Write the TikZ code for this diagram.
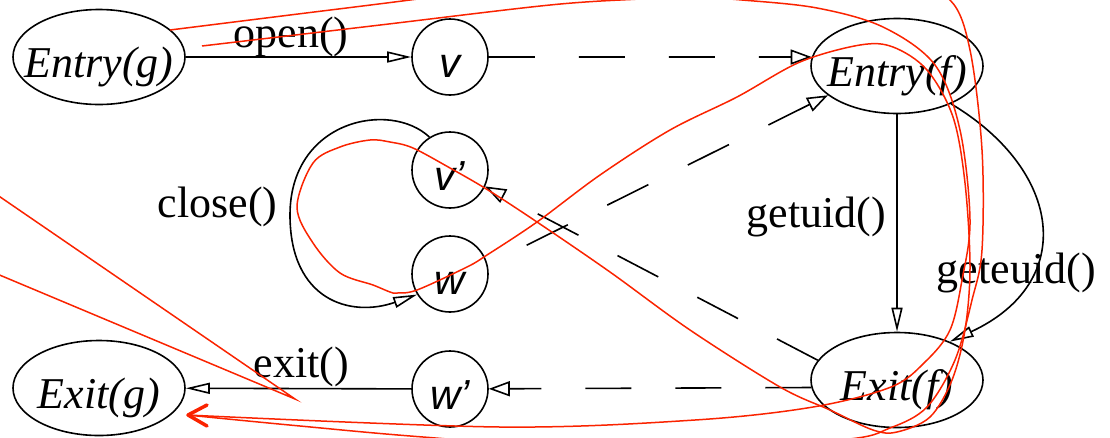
\documentclass[tikz,border=0pt]{standalone}
\usepackage{fontspec}
\setmainfont{Liberation Serif}
\newfontfamily\nodesans{Liberation Sans}
\usetikzlibrary{shapes.geometric, arrows.meta}
\definecolor{annred}{RGB}{250,35,0}
\newcommand\inbox[1]{\makebox[90pt]{#1}}
\tikzset{
  stip/.tip={Triangle[open, length=24pt, width=11pt]},
  dtip/.tip={Triangle[open, length=21pt, width=15pt]},
}
\begin{document}
\begin{tikzpicture}[x=1pt, y=-1pt, line width=1.6pt,
  ell/.style={draw, ellipse, minimum width=172pt, minimum height=95pt, inner sep=0pt,
    text height=40pt, text depth=0pt, font=\fontsize{44}{50}\selectfont\itshape},
  circ/.style={draw, circle, minimum size=76pt, inner sep=0pt,
    text height=40pt, text depth=0pt, font=\nodesans\fontsize{42}{48}\selectfont\itshape},
  lab/.style={anchor=base west, inner sep=0pt, font=\fontsize{44}{50}\selectfont},
  dashedge/.style={dash pattern=on 46pt off 44pt},
  annot/.style={draw=annred, line width=1.5pt},
]
\useasboundingbox (0,0) rectangle (1110,437);

% nodes
\node[ell] (eg) at (99,57) {\inbox{Entry(g)}};
\node[ell] (ef) at (897,66) {\inbox{Entry(f)}};
\node[ell] (xg) at (99,388) {\inbox{Exit(g)}};
\node[ell] (xf) at (897,380) {\inbox{Exit(f)}};
\node[circ] (v) at (450,57) {v};
\node[circ] (vp) at (450,170) {v’};
\node[circ] (w) at (450,274) {w};
\node[circ] (wp) at (450,389) {w’};

% labels
\node[lab] (lopen) at (233,47) {open()};
\node[lab] (lclose) at (157,217) {close()};
\node[lab] (lexit) at (253,377) {exit()};
\node[lab] (lgetuid) at (746,227) {getuid()};
\node[lab] (lgeteuid) at (936,283) {geteuid()};

% edges
\draw[-stip] (eg) -- (v);
\draw[dashedge, -dtip] (v) -- (ef.174);
\draw[dashedge, dtip-] (ef.203) -- (w.14);
\draw[dashedge, -dtip] (xf.166) -- (vp.-25);
\draw[dashedge, -dtip] (xf.185) -- (wp);
\draw[-stip] (wp) -- (xg);
\draw[-stip] (ef.south) -- (xf.north);
\draw[-stip] (ef.-35) .. controls (1062,170) and (1078,282) .. (xf.36);
\coordinate (loopL) at (290,215);
\draw[-stip] (vp.122) .. controls (390,100) and (290,120) .. (loopL)
  .. controls (290,300) and (350,318) .. (w.212);

% red annotation
\begin{scope}
\clip (0,0) rectangle (1110,437);
\draw[annot] plot[smooth, tension=0.55] coordinates {
  (170,30) (290,15) (410,0) (560,-20) (760,-35) (900,-20) (950,0) (970,50)
  (982,150) (982,250) (972,300) (955,360) (927,407) (890,428) (840,440)
  (640,452) (423,437) (300,426) (187,415)};
\draw[annot] plot[smooth, tension=0.55] coordinates {
  (202,46) (376,25.5) (550,5) (640,-1) (690,-3) (742,0) (817,8) (883,27)
  (935,65) (960,130) (970,220) (962,280) (950,330) (925,362) (891,387)
  (813,407) (695,420) (500,427) (187,415)};
\draw[annot] plot[smooth cycle, tension=0.55] coordinates {
  (413,148) (390,142) (370,140) (340,147) (313,163) (297,207) (313,243)
  (340,273) (373,285) (390,292) (397,293) (417,290) (467,267) (487,255)
  (537,222) (600,175) (670,130) (737,97) (800,62) (860,45) (893,47)
  (927,70) (953,117) (965,183) (970,267) (965,330) (952,380) (930,417)
  (897,432) (873,430) (830,410) (780,387) (690,330) (610,272) (537,222)
  (488,190) (450,168)};
\draw[annot] (-10,190) -- (295,399) -- (-10,271);
\draw[annot, line width=3.5pt, line cap=round, line join=round]
  (207,405) -- (188,415) -- (207,426);
\end{scope}
\end{tikzpicture}
\end{document}
